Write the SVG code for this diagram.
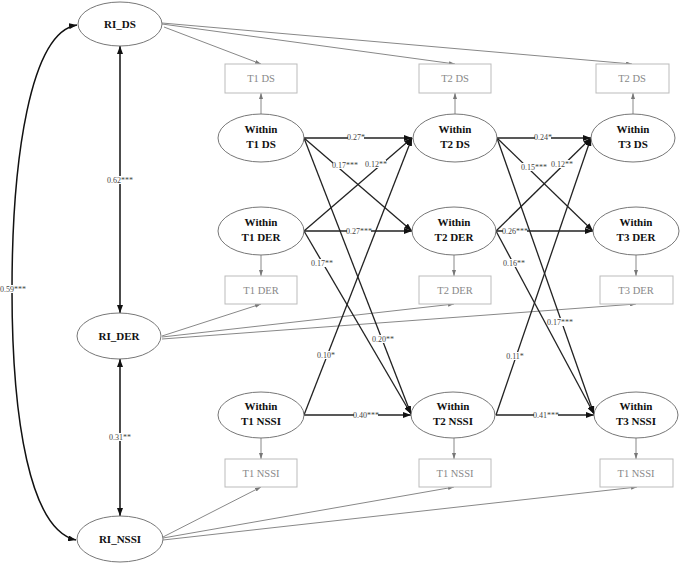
<svg xmlns="http://www.w3.org/2000/svg" width="680" height="563" viewBox="0 0 680 563">
<defs>
<marker id="ab" markerUnits="userSpaceOnUse" markerWidth="8" markerHeight="6" refX="8" refY="3" orient="auto-start-reverse"><path d="M0,0 L8,3 L0,6 z" fill="#111"/></marker>
<marker id="ag" markerUnits="userSpaceOnUse" markerWidth="6" markerHeight="4" refX="6" refY="2" orient="auto-start-reverse"><path d="M0,0 L6,2 L0,4 z" fill="#777"/></marker>
</defs>
<style>
.lat ellipse{fill:#fff;stroke:#777;stroke-width:1}
.lat text{font-family:"Liberation Serif","DejaVu Serif",serif;font-weight:bold;font-size:11px;fill:#111;text-anchor:middle}
.obs rect{fill:#fff;stroke:#bbb;stroke-width:1}
.obs text{font-family:"Liberation Serif","DejaVu Serif",serif;font-size:10.5px;fill:#888;text-anchor:middle}
.g{stroke:#888;stroke-width:1;fill:none;marker-end:url(#ag)}
.b{stroke:#222;stroke-width:1.3;fill:none;marker-end:url(#ab)}
.d{stroke:#111;stroke-width:1.5;fill:none;marker-start:url(#ab);marker-end:url(#ab)}
.bg rect{fill:#fff;height:8px}
.lbl{font-family:"Liberation Serif","DejaVu Serif",serif;font-size:8px;fill:#444;text-anchor:middle}
</style>
<rect width="680" height="563" fill="#fff"/>
<g id="connectors">
<line class="g" x1="164" y1="27" x2="261" y2="64"/>
<line class="g" x1="162" y1="24" x2="455" y2="64"/>
<line class="g" x1="162" y1="23" x2="632" y2="64"/>
<line class="g" x1="162" y1="336" x2="261" y2="304"/>
<line class="g" x1="162" y1="337" x2="454" y2="304"/>
<line class="g" x1="162" y1="339" x2="636" y2="304"/>
<line class="g" x1="163" y1="537" x2="261" y2="487"/>
<line class="g" x1="163" y1="538" x2="454" y2="487"/>
<line class="g" x1="163" y1="540" x2="637" y2="487"/>
<line class="g" x1="261" y1="114" x2="261" y2="93"/>
<line class="g" x1="455" y1="114" x2="455" y2="93"/>
<line class="g" x1="633" y1="114" x2="633" y2="93"/>
<line class="g" x1="261" y1="255" x2="261" y2="276"/>
<line class="g" x1="454" y1="255" x2="454" y2="276"/>
<line class="g" x1="636" y1="255" x2="636" y2="276"/>
<line class="g" x1="261" y1="438" x2="261" y2="459"/>
<line class="g" x1="454" y1="438" x2="454" y2="459"/>
<line class="g" x1="636" y1="438" x2="636" y2="459"/>
<line class="d" x1="120" y1="46" x2="120" y2="313"/>
<line class="d" x1="120" y1="359" x2="120" y2="516"/>
<path class="d" d="M77,25 C30,32 12,160 12,290 C12,420 30,530 76,540"/>
<line class="b" x1="304" y1="138" x2="412" y2="138"/>
<line class="b" x1="304" y1="138" x2="412" y2="231"/>
<line class="b" x1="304" y1="138" x2="411" y2="414"/>
<line class="b" x1="304" y1="231" x2="412" y2="138"/>
<line class="b" x1="304" y1="231" x2="412" y2="231"/>
<line class="b" x1="304" y1="231" x2="411" y2="414"/>
<line class="b" x1="304" y1="415" x2="412" y2="138"/>
<line class="b" x1="304" y1="415" x2="411" y2="415"/>
<line class="b" x1="497" y1="138" x2="591" y2="138"/>
<line class="b" x1="497" y1="138" x2="593" y2="231"/>
<line class="b" x1="497" y1="138" x2="594" y2="414"/>
<line class="b" x1="496" y1="231" x2="591" y2="138"/>
<line class="b" x1="496" y1="231" x2="593" y2="231"/>
<line class="b" x1="496" y1="231" x2="594" y2="414"/>
<line class="b" x1="496" y1="415" x2="591" y2="138"/>
<line class="b" x1="496" y1="415" x2="594" y2="415"/>
<g class="bg">
<rect x="108" y="176" width="24"/>
<rect x="110" y="433" width="20"/>
<rect x="1" y="285" width="24"/>
<rect x="348" y="133" width="16"/>
<rect x="333" y="161" width="24"/>
<rect x="366" y="160" width="20"/>
<rect x="347" y="227" width="24"/>
<rect x="312" y="259" width="20"/>
<rect x="373" y="335" width="20"/>
<rect x="318" y="351" width="16"/>
<rect x="354" y="411" width="24"/>
<rect x="535" y="133" width="16"/>
<rect x="522" y="163" width="24"/>
<rect x="552" y="160" width="20"/>
<rect x="503" y="227" width="24"/>
<rect x="504" y="259" width="20"/>
<rect x="548" y="318" width="24"/>
<rect x="507" y="352" width="16"/>
<rect x="534" y="411" width="24"/>
</g>
<text class="lbl" x="120" y="183">0.62***</text>
<text class="lbl" x="120" y="440">0.31**</text>
<text class="lbl" x="13" y="292">0.59***</text>
<text class="lbl" x="356" y="140">0.27*</text>
<text class="lbl" x="345" y="168">0.17***</text>
<text class="lbl" x="376" y="167">0.12**</text>
<text class="lbl" x="359" y="234">0.27***</text>
<text class="lbl" x="322" y="266">0.17**</text>
<text class="lbl" x="383" y="342">0.20**</text>
<text class="lbl" x="326" y="358">0.10*</text>
<text class="lbl" x="366" y="418">0.40***</text>
<text class="lbl" x="543" y="140">0.24*</text>
<text class="lbl" x="534" y="170">0.15***</text>
<text class="lbl" x="562" y="167">0.12**</text>
<text class="lbl" x="515" y="234">0.26***</text>
<text class="lbl" x="514" y="266">0.16**</text>
<text class="lbl" x="560" y="325">0.17***</text>
<text class="lbl" x="515" y="359">0.11*</text>
<text class="lbl" x="546" y="418">0.41***</text>
</g>
<g id="RI_DS" class="lat"><ellipse cx="120" cy="24" rx="42" ry="22"/><text x="120" y="28">RI_DS</text></g>
<g id="RI_DER" class="lat"><ellipse cx="119" cy="336" rx="42" ry="23"/><text x="119" y="340">RI_DER</text></g>
<g id="RI_NSSI" class="lat"><ellipse cx="120" cy="539" rx="43" ry="23"/><text x="120" y="543">RI_NSSI</text></g>
<g id="W_T1_DS" class="lat"><ellipse cx="261" cy="138" rx="43" ry="24"/><text x="261" y="133">Within</text><text x="261" y="148">T1 DS</text></g>
<g id="W_T2_DS" class="lat"><ellipse cx="455" cy="138" rx="42" ry="24"/><text x="455" y="133">Within</text><text x="455" y="148">T2 DS</text></g>
<g id="W_T3_DS" class="lat"><ellipse cx="633" cy="138" rx="42" ry="24"/><text x="633" y="133">Within</text><text x="633" y="148">T3 DS</text></g>
<g id="W_T1_DER" class="lat"><ellipse cx="261" cy="231" rx="43" ry="24"/><text x="261" y="226">Within</text><text x="261" y="241">T1 DER</text></g>
<g id="W_T2_DER" class="lat"><ellipse cx="454" cy="231" rx="42" ry="24"/><text x="454" y="226">Within</text><text x="454" y="241">T2 DER</text></g>
<g id="W_T3_DER" class="lat"><ellipse cx="636" cy="231" rx="43" ry="24"/><text x="636" y="226">Within</text><text x="636" y="241">T3 DER</text></g>
<g id="W_T1_NSSI" class="lat"><ellipse cx="261" cy="415" rx="43" ry="23"/><text x="261" y="410">Within</text><text x="261" y="425">T1 NSSI</text></g>
<g id="W_T2_NSSI" class="lat"><ellipse cx="453" cy="415" rx="42" ry="23"/><text x="453" y="410">Within</text><text x="453" y="425">T2 NSSI</text></g>
<g id="W_T3_NSSI" class="lat"><ellipse cx="636" cy="415" rx="42" ry="23"/><text x="636" y="410">Within</text><text x="636" y="425">T3 NSSI</text></g>
<g id="O_T1_DS" class="obs"><rect x="225" y="64" width="72" height="29"/><text x="261" y="82">T1 DS</text></g>
<g id="O_T2_DS" class="obs"><rect x="419" y="64" width="72" height="29"/><text x="455" y="82">T2 DS</text></g>
<g id="O_T3_DS" class="obs"><rect x="596" y="64" width="73" height="29"/><text x="632" y="82">T2 DS</text></g>
<g id="O_T1_DER" class="obs"><rect x="225" y="276" width="72" height="28"/><text x="261" y="294">T1 DER</text></g>
<g id="O_T2_DER" class="obs"><rect x="419" y="276" width="72" height="28"/><text x="455" y="294">T2 DER</text></g>
<g id="O_T3_DER" class="obs"><rect x="600" y="276" width="73" height="28"/><text x="636" y="294">T3 DER</text></g>
<g id="O_T1_NSSI" class="obs"><rect x="225" y="459" width="72" height="28"/><text x="261" y="477">T1 NSSI</text></g>
<g id="O_T2_NSSI" class="obs"><rect x="419" y="459" width="72" height="28"/><text x="455" y="477">T1 NSSI</text></g>
<g id="O_T3_NSSI" class="obs"><rect x="600" y="459" width="73" height="28"/><text x="636" y="477">T1 NSSI</text></g>
</svg>
